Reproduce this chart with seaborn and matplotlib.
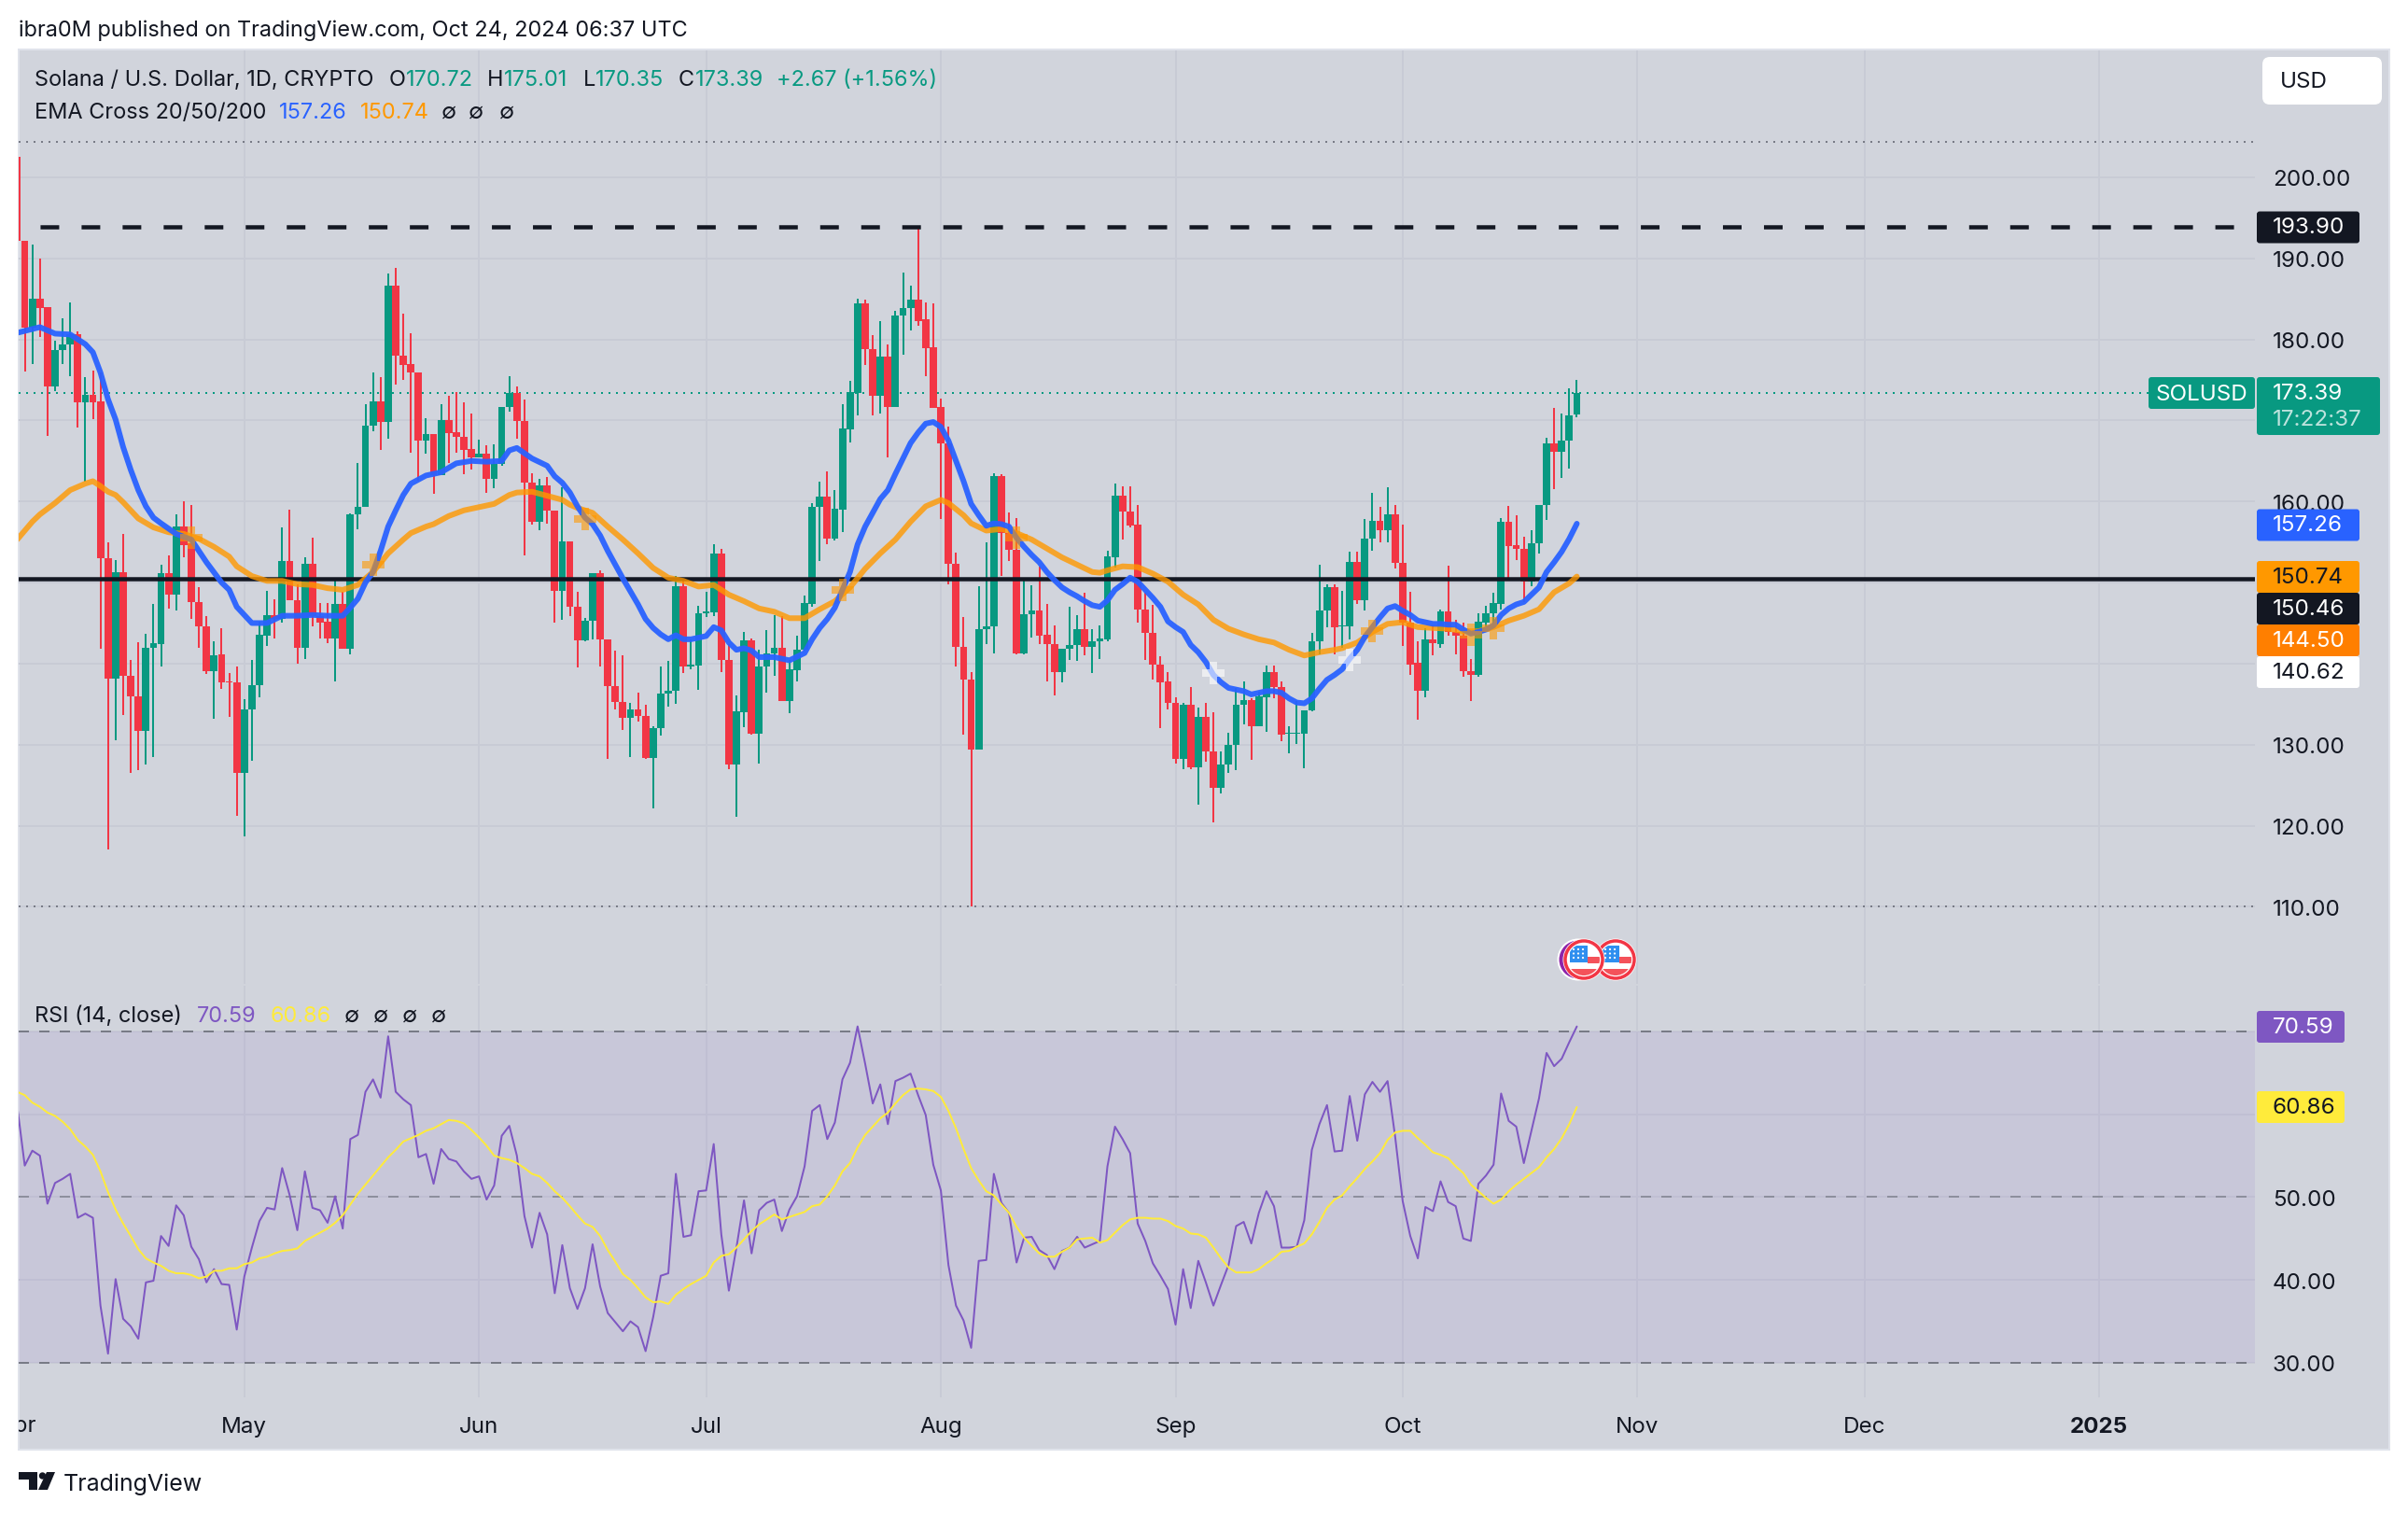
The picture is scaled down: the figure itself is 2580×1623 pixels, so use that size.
import matplotlib
matplotlib.use("Agg")
import matplotlib.pyplot as plt
import seaborn as sns
import pandas as pd
from matplotlib.patches import Rectangle, Circle, FancyBboxPatch, Polygon
from matplotlib.transforms import Bbox

# ---------- data ----------
opens = [202.5,192.2,181.4,185.0,184.0,174.2,178.7,179.4,180.6,172.2,
173.1,172.3,153.0,138.2,151.3,138.5,136.0,131.7,142.0,142.4,
151.2,148.5,156.9,154.8,147.6,144.6,139.1,141.1,137.8,137.7,
126.5,134.3,137.3,143.5,146.0,145.5,152.7,147.8,142.0,152.3,
145.9,145.2,143.1,147.3,141.8,158.4,159.3,169.3,172.4,169.8,
186.6,178.0,176.9,175.9,167.5,168.3,163.2,170.0,168.5,168.0,
166.5,165.4,165.9,162.8,164.6,171.6,173.4,169.9,162.3,157.5,
162.0,158.9,149.0,155.1,147.0,142.9,145.3,151.1,143.0,137.2,
135.3,133.3,134.3,133.5,128.4,132.1,136.3,136.6,149.5,139.6,
139.8,146.2,146.3,153.6,140.4,127.5,134.0,142.9,131.4,139.7,
141.3,141.9,135.4,139.2,141.7,147.4,159.3,160.6,155.4,159.0,
168.9,173.4,184.4,178.8,173.0,177.9,171.6,182.9,183.8,184.9,
182.5,179.0,171.6,167.2,152.3,142.1,138.0,129.4,144.2,144.6,
163.1,156.1,154.0,141.3,146.1,146.6,143.6,142.4,138.9,141.8,
142.3,144.2,142.1,142.7,143.0,153.1,160.7,158.8,157.1,146.7,
143.8,139.9,137.8,135.1,128.3,134.9,127.2,133.4,129.2,124.7,
127.5,130.0,134.9,135.5,132.3,135.9,138.9,137.1,131.3,131.4,
131.4,134.2,142.7,146.5,149.4,144.6,144.6,152.5,147.8,155.4,
157.6,156.5,158.4,152.4,145.0,140.1,136.6,143.0,142.4,146.4,
143.9,143.4,139.1,138.6,145.1,146.2,147.4,157.5,154.6,154.1,
150.1,154.8,159.6,167.2,166.1,167.5,170.72]
closes = [192.2,181.4,185.0,183.9,174.2,178.7,179.4,180.6,172.2,173.1,
172.2,153.0,138.2,151.3,138.5,136.0,131.7,142.0,142.5,151.2,
148.5,156.9,154.6,147.6,144.6,139.1,141.0,137.7,137.7,126.5,
134.3,137.3,143.6,146.0,145.5,152.7,147.8,142.0,152.3,145.9,
145.1,143.1,147.3,141.8,158.4,159.3,169.3,172.4,169.8,186.6,
178.0,176.8,175.9,167.5,168.3,163.2,170.0,168.4,168.0,166.4,
165.4,165.9,162.8,164.6,171.6,173.4,169.9,162.3,157.5,162.0,
158.9,149.0,155.1,147.0,142.9,145.3,151.1,143.0,137.2,135.3,
133.3,134.3,133.5,128.4,132.1,136.3,136.6,149.5,139.6,139.9,
146.2,146.4,153.6,140.4,127.5,134.1,142.9,131.4,139.7,141.3,
141.9,135.4,139.3,141.7,147.5,159.3,160.6,155.4,159.1,169.0,
173.5,184.4,178.8,173.0,177.9,171.6,182.9,183.8,184.9,182.3,
178.9,171.5,167.2,152.3,142.1,138.0,129.4,144.2,144.6,163.1,
156.1,154.0,141.3,146.1,146.6,143.5,142.4,138.9,141.8,142.3,
144.2,142.1,142.7,143.1,153.2,160.7,158.7,157.0,146.7,143.8,
139.9,137.7,135.1,128.3,134.9,127.2,133.4,129.2,124.7,127.5,
130.0,134.9,135.5,132.3,136.0,138.9,137.1,131.2,131.4,131.5,
134.2,142.8,146.5,149.4,144.5,144.7,152.5,147.8,155.4,157.6,
156.5,158.4,152.4,145.0,139.9,136.6,143.0,142.5,146.4,143.9,
143.4,139.1,138.6,145.2,146.2,147.5,157.5,154.5,154.1,150.1,
154.8,159.6,167.2,166.1,167.5,170.6,173.39]
highs = [202.5,192.2,191.7,190.0,184.0,179.8,182.6,184.5,181.0,175.3,
176.2,175.9,154.9,152.8,156.0,140.4,142.6,143.7,147.4,152.2,
153.4,158.4,160.0,159.6,149.4,145.9,142.8,144.4,138.8,139.6,
135.6,140.4,145.2,149.0,147.9,156.8,159.0,149.8,153.1,155.5,
147.5,147.5,150.5,148.8,158.5,164.7,172.0,175.9,175.3,188.1,
188.8,183.2,180.8,175.9,170.3,168.3,172.0,173.0,173.5,172.2,
170.8,167.6,166.9,167.0,171.7,175.4,174.2,172.6,163.5,162.8,
163.0,158.9,161.7,155.1,148.8,145.6,151.1,151.5,143.0,141.6,
141.0,135.1,136.4,134.9,132.3,139.7,140.3,150.8,150.2,143.0,
147.1,148.8,154.7,154.2,142.4,136.1,143.9,143.1,141.7,144.1,
146.0,145.9,140.4,143.5,148.4,159.8,162.4,163.7,161.4,172.0,
174.9,185.0,184.9,180.5,182.3,179.4,183.5,188.2,186.6,193.9,
184.6,184.4,172.7,169.2,153.7,145.8,139.0,149.5,154.9,163.5,
163.4,158.6,157.9,150.6,149.7,152.0,147.4,144.7,141.8,147.0,
146.0,148.7,144.2,144.7,153.9,162.2,161.9,161.9,159.6,148.7,
147.2,140.9,138.9,135.9,135.1,137.1,134.6,135.1,134.0,129.2,
131.5,137.0,137.8,135.7,136.5,139.8,139.8,137.8,132.3,135.4,
134.2,143.8,152.2,149.8,149.8,149.0,153.8,153.8,157.8,161.1,
159.3,161.7,159.6,157.2,148.8,142.8,144.4,144.7,146.7,152.1,
145.4,145.1,140.6,146.2,147.1,148.7,157.9,159.5,158.3,155.6,
156.5,159.6,167.9,171.5,170.8,174.0,175.01]
lows = [192.2,176.0,177.0,180.3,168.1,173.6,177.0,175.4,169.1,162.4,
170.1,141.8,117.1,130.6,133.7,126.5,126.9,127.6,128.5,139.6,
146.8,146.6,153.1,145.5,142.0,138.7,133.2,136.9,133.4,121.2,
118.7,128.0,135.9,142.2,143.1,145.0,147.8,140.0,140.6,144.6,
143.1,142.5,137.8,141.8,141.1,156.6,159.3,168.7,166.3,167.7,
174.4,175.0,166.0,162.5,165.9,161.0,163.2,164.7,166.0,163.4,
163.9,165.4,161.1,161.6,164.4,171.1,167.7,153.3,157.2,156.5,
157.3,145.1,145.4,145.9,139.5,142.7,143.0,139.7,128.2,134.4,
131.8,128.5,132.9,128.2,122.1,131.1,134.7,135.0,138.8,139.3,
136.8,145.7,145.9,138.9,127.0,121.1,132.2,131.2,127.7,136.4,
138.5,135.4,133.9,137.8,141.6,147.0,152.6,154.7,155.2,156.2,
167.3,170.6,176.8,170.6,170.9,165.4,171.6,178.1,181.1,181.7,
175.4,171.5,157.8,149.8,139.7,131.2,110.0,129.4,142.4,141.3,
150.8,152.6,141.1,141.1,143.2,142.4,137.8,136.1,137.7,140.4,
140.3,141.0,138.8,140.6,142.7,151.9,155.3,156.8,145.1,140.5,
138.0,132.1,134.4,127.7,127.0,127.0,122.6,127.9,120.4,124.0,
126.5,126.9,132.5,128.1,132.3,131.6,135.7,130.4,128.9,130.1,
127.1,134.1,141.1,144.5,141.1,142.0,143.0,147.3,146.5,153.9,
155.0,155.0,151.7,142.2,138.6,133.1,135.9,141.0,141.9,143.4,
141.1,138.4,135.4,138.4,144.6,144.4,146.7,150.4,152.8,147.6,
149.6,153.6,157.7,161.5,162.9,164.1,170.35]
rsi = [61.0,53.8,55.6,55.0,49.2,51.7,52.2,52.8,47.5,48.0,
47.5,36.9,31.1,40.1,35.3,34.4,32.9,39.7,39.9,45.3,
44.1,49.0,47.8,44.0,42.5,39.7,41.3,39.5,39.4,34.0,
40.4,43.9,47.1,48.7,48.5,53.5,50.2,46.0,53.1,48.7,
48.4,46.9,50.1,46.2,57.0,57.5,62.7,64.2,62.0,69.4,
62.7,61.8,61.1,54.8,55.2,51.6,55.8,54.6,54.3,53.1,
52.2,52.5,49.7,51.4,57.4,58.6,55.0,47.7,43.9,48.1,
45.5,38.4,44.2,39.0,36.5,39.0,44.3,39.2,36.0,34.9,
33.8,35.0,34.3,31.4,35.5,40.5,40.8,52.8,45.2,45.4,
50.7,50.8,56.4,45.5,38.7,43.9,49.6,43.2,48.4,49.3,
49.7,45.9,48.5,50.1,53.7,60.4,61.1,57.0,59.0,64.2,
66.2,70.6,66.1,61.3,63.6,58.8,64.0,64.4,64.9,62.3,
59.9,53.9,50.8,41.8,36.9,35.1,31.8,42.3,42.4,52.8,
49.3,48.1,42.1,45.1,45.2,43.6,43.0,41.3,43.5,43.9,
45.2,43.9,44.3,44.7,53.7,58.5,57.0,55.3,46.8,44.7,
42.0,40.5,38.9,34.6,41.3,36.6,42.3,39.7,36.9,39.4,
41.8,46.5,47.0,44.4,48.1,50.7,48.9,43.9,43.9,44.0,
47.2,55.7,58.8,61.1,55.5,55.6,62.2,56.8,62.4,63.9,
62.7,64.0,57.3,49.5,45.3,42.6,48.8,48.3,51.9,49.4,
48.9,45.0,44.7,51.6,52.6,53.9,62.5,59.2,58.5,54.1,
58.0,61.9,67.4,65.8,66.7,68.7,70.59]
rsi_ma = [62.7,62.3,61.4,60.9,60.2,59.8,59.1,58.2,56.9,56.1,
55.1,53.1,50.6,48.5,46.8,45.3,43.7,42.6,42.1,41.7,
41.1,40.8,40.8,40.6,40.2,40.4,41.1,41.1,41.4,41.4,
41.9,42.1,42.6,42.8,43.2,43.5,43.6,43.8,44.7,45.2,
45.7,46.2,46.9,47.8,49.1,50.4,51.5,52.6,53.7,54.8,
55.7,56.7,57.1,57.5,58.0,58.3,58.8,59.3,59.2,58.9,
58.1,57.2,56.2,55.0,54.7,54.5,54.1,53.5,52.8,52.5,
51.7,50.7,49.9,48.9,47.8,46.8,46.4,45.3,43.6,42.2,
40.7,40.0,39.0,37.9,37.3,37.4,37.1,38.2,38.9,39.5,
40.0,40.5,42.1,42.9,43.1,43.9,44.9,45.9,46.7,47.3,
47.9,47.3,47.6,47.9,48.2,48.9,49.1,50.1,51.4,53.1,
54.1,56.0,57.5,58.5,59.5,60.2,61.3,62.3,63.0,63.1,
63.0,62.8,62.1,60.4,58.3,55.8,53.5,52.0,50.7,50.2,
49.1,48.1,46.4,45.1,44.1,43.2,42.8,42.8,43.4,43.9,
44.9,45.0,45.1,44.5,44.8,45.7,46.6,47.3,47.5,47.5,
47.4,47.4,47.1,46.5,46.2,45.6,45.5,45.1,43.9,42.6,
41.5,40.9,40.9,40.9,41.3,42.0,42.6,43.4,43.5,44.0,
44.4,45.5,47.0,48.7,49.7,50.2,51.3,52.3,53.4,54.3,
55.3,56.9,57.8,58.0,58.0,57.1,56.3,55.4,55.1,54.7,
53.7,52.9,51.5,50.7,49.9,49.2,49.7,50.7,51.5,52.2,
52.9,53.6,54.8,55.8,57.1,58.8,60.86]
ema20_days = [0,3,5,7,9,10,11,12,13,14,15,16,17,18,19,21,23,25,27,28,29,31,33,35,37,39,41,43,44,45,46,47,48,49,50,51,52,54,56,58,60,62,64,65,66,68,70,71,72,73,74,75,76,77,78,79,80,81,82,83,84,85,86,87,88,89,90,91,92,93,94,95,96,97,98,100,102,104,105,106,107,108,109,110,111,112,113,114,115,116,117,118,119,120,121,122,123,124,125,126,127,128,129,130,131,132,133,134,135,136,137,138,139,140,141,142,143,144,145,146,147,148,149,150,151,152,153,154,155,156,157,158,159,160,161,162,163,164,165,166,167,168,169,170,171,172,173,174,175,176,177,178,179,180,181,182,183,184,185,186,187,188,189,190,191,192,193,194,195,196,197,198,199,200,201,202,203,204,205,206]
ema20_vals = [180.8,181.5,180.7,180.6,179.4,178.4,175.9,172.6,170.1,166.7,163.9,161.4,159.4,158.0,157.3,156.0,155.3,152.5,150.0,149.1,147.0,145.0,145.0,145.9,145.9,146.0,145.9,145.9,146.9,148.0,150.0,151.3,153.9,156.9,158.9,160.8,162.2,163.2,163.6,164.7,165.0,164.9,165.0,166.3,166.6,165.3,164.4,163.1,162.3,161.1,159.4,158.0,157.2,155.8,153.9,152.2,150.5,148.9,147.3,145.5,144.4,143.6,143.0,143.5,143.0,143.0,143.2,143.4,144.5,144.1,142.6,141.7,141.9,141.6,140.8,140.8,140.4,141.3,143.0,144.4,145.5,146.9,149.1,151.3,154.7,156.9,158.6,160.3,161.4,163.4,165.3,167.2,168.5,169.6,169.8,169.2,167.5,165.0,162.5,159.7,158.3,157.0,157.3,157.2,156.9,155.5,154.4,153.4,152.5,151.3,150.3,149.4,148.8,148.3,147.7,147.2,147.0,147.8,149.1,149.8,150.6,150.1,149.1,148.1,147.0,145.2,144.5,143.9,142.3,141.4,140.2,138.6,137.7,137.0,136.8,136.6,136.2,136.4,136.6,136.6,136.4,135.7,135.2,135.1,135.7,136.9,138.0,138.6,139.3,140.6,141.7,143.3,144.5,145.7,146.8,147.1,146.5,146.0,145.3,145.1,144.9,144.9,144.8,144.8,144.2,143.7,143.9,144.2,144.7,146.0,146.8,147.3,147.6,148.5,149.4,151.3,152.5,153.8,155.4,157.26]
ema50_days = [0,2,3,5,7,9,10,11,12,13,14,16,18,20,22,24,26,28,29,31,33,35,37,39,41,43,45,47,49,51,52,54,55,57,59,61,63,65,66,68,70,72,73,74,76,78,80,82,84,86,88,90,92,94,96,98,100,102,104,106,108,110,112,114,116,118,120,122,123,125,126,128,130,132,134,136,138,140,142,143,144,146,148,150,152,154,156,158,160,162,164,166,168,170,172,174,175,177,179,181,183,185,187,189,191,193,195,197,199,201,203,205,206]
ema50_vals = [155.3,157.5,158.4,159.8,161.4,162.2,162.5,161.9,161.2,160.8,159.9,157.9,156.8,156.2,156.0,155.4,154.4,153.2,152.0,150.8,150.2,150.2,149.8,149.7,149.3,149.1,149.7,151.3,153.6,155.3,156.1,156.9,157.2,158.2,158.9,159.3,159.7,160.8,161.1,161.2,160.7,160.2,159.6,159.2,158.6,156.9,155.3,153.6,151.8,150.6,150.2,149.5,149.7,148.5,147.7,146.8,146.4,145.6,145.6,146.7,147.7,149.4,151.7,153.6,155.3,157.5,159.4,160.2,159.8,158.3,157.3,156.4,156.6,156.1,155.3,154.2,153.1,152.2,151.3,151.2,151.5,152.0,151.9,151.1,150.1,148.5,147.3,145.4,144.3,143.6,143.0,142.6,141.7,141.0,141.4,141.7,141.9,142.6,143.9,144.9,145.1,144.5,144.4,144.3,144.0,144.0,144.5,145.3,145.9,146.7,148.8,149.9,150.74]
cross_days_orange = [23,47,75,109,132,179,192,195]
cross_vals_orange = [155.5,152.2,157.8,149.1,155.5,144.0,143.6,144.4]
cross_days_white = [158,176]
cross_vals_white = [138.8,140.5]
price_ticks = [110,120,130,140,150,160,170,180,190,200]
hidden_price_ticks = [140,150,170]
rsi_ticks = [30,40,50,60,70]
hidden_rsi_ticks = [60,70]
month_days = [30,61,91,122,153,183,214,244,275]
month_names = ["May","Jun","Jul","Aug","Sep","Oct","Nov","Dec","2025"]
resistance, support, level_top, level_low = 193.90, 150.46, 204.3, 110.0
last_close, ema20_last, ema50_last = 173.39, 157.26, 150.74
label_orange, label_white = 144.50, 140.62
rsi_last, rsi_ma_last = 70.59, 60.86

# ---------- style ----------
W, H, DPI = 2580, 1624, 100
sns.set_theme(style="whitegrid")
plt.rcParams['font.family'] = ['Inter', 'DejaVu Sans']
PX = 72 / DPI
BG, GRID, INK = '#D1D4DC', '#C8CBD5', '#131722'
GREEN, RED, BLUE, ORANGE, PURPLE, YELLOW = '#089981', '#F23645', '#2962FF', '#FF9800', '#7E57C2', '#FFEB3B'
FS = 23.5 * PX
FS_AXIS = FS + .5

def frame(x0, y0, x1, y1, **kw):
    return fig.add_axes([x0 / W, 1 - y1 / H, (x1 - x0) / W, (y1 - y0) / H], **kw)

fig = plt.figure(figsize=(W / DPI, H / DPI), dpi=DPI, facecolor='white')
ax_bg = frame(0, 0, W, H, zorder=0)
ax_bg.set_xlim(0, W); ax_bg.set_ylim(H, 0); ax_bg.axis('off')
ax_bg.add_patch(Rectangle((20, 54), 2540, 1500, fc=BG, ec='#E0E3EB', lw=2 * PX))

XL = ((20 - 18.4) / 8.112, (2416 - 18.4) / 8.112)
ax = frame(20, 55, 2416, 1055, zorder=2)
ax_r = frame(20, 1057, 2416, 1498, zorder=2)
for a in (ax, ax_r):
    a.set_facecolor('none')
    a.set_xlim(*XL)
    a.set_xticks(month_days)
    a.grid(True, color=GRID, lw=2 * PX)
    a.set_axisbelow(True)
    for s in a.spines.values():
        s.set_visible(False)
    a.yaxis.tick_right()
    a.tick_params(axis='both', length=0, colors=INK, labelsize=FS_AXIS)
    a.tick_params(axis='y', pad=19 * PX)

ax.set_ylim(200 - (1055 - 190.8) / 8.685, 200 + (190.8 - 55) / 8.685)
ax.set_yticks(price_ticks)
ax.set_yticklabels(['' if v in hidden_price_ticks else f'{v:.2f}' for v in price_ticks])
ax.set_xticklabels([])

ax_r.set_ylim(70 - (1498 - 1105.9) / 8.875, 70 + (1105.9 - 1057) / 8.875)
ax_r.set_yticks(rsi_ticks)
ax_r.set_yticklabels(['' if v in hidden_rsi_ticks else f'{v:.2f}' for v in rsi_ticks])
ax_r.set_xticklabels(month_names)
ax_r.tick_params(axis='x', pad=20 * PX)
ax_r.get_xticklabels()[-1].set_fontweight('bold')

# ---------- candles ----------
days = list(range(len(closes)))
candles = pd.DataFrame({'day': days, 'o': opens, 'h': highs, 'l': lows, 'c': closes})
candles['color'] = [GREEN if c >= o else RED for o, c in zip(opens, closes)]
ax.vlines(candles['day'], candles['l'], candles['h'], colors=candles['color'], lw=2 * PX, zorder=3)
ax.bar(candles['day'], (candles['c'] - candles['o']).abs().clip(lower=.12),
       bottom=candles[['o', 'c']].min(axis=1), width=.96, color=candles['color'], lw=0, zorder=4)

# ---------- levels ----------
ax.axhline(resistance, color=INK, lw=4.5 * PX, ls=(4.67, (4.44, 5.33)), zorder=5)
ax.axhline(support, color=INK, lw=4.5 * PX, zorder=5)
ax.axhline(level_top, color='#787B86', lw=2 * PX, ls=(0, (1, 3)), zorder=2)
ax.axhline(level_low, color='#787B86', lw=2 * PX, ls=(0, (1, 3)), zorder=2)
ax.plot([XL[0], (2302 - 18.4) / 8.112], [last_close] * 2, color=GREEN, lw=2 * PX, ls=(0, (1, 3)), zorder=2)

# ---------- EMA lines ----------
sns.lineplot(x=ema50_days, y=ema50_vals, ax=ax, color=ORANGE, lw=6 * PX, alpha=.8, zorder=6, estimator=None, legend=False)
sns.lineplot(x=ema20_days, y=ema20_vals, ax=ax, color=BLUE, lw=6 * PX, alpha=.95, zorder=6, estimator=None, legend=False)
ax.scatter(cross_days_orange, cross_vals_orange, marker='+', s=(24 * PX) ** 2, linewidths=8 * PX, color=ORANGE, alpha=.6, zorder=7)
ax.scatter(cross_days_white, cross_vals_white, marker='+', s=(24 * PX) ** 2, linewidths=8 * PX, color='white', alpha=.6, zorder=7)
ax.set_xlim(*XL); ax.set_xlabel(''); ax.set_ylabel('')

# ---------- RSI ----------
ax_r.axhspan(30, 70, color=PURPLE, alpha=.1, lw=0, zorder=1)
for lvl, al in ((70, 1), (50, .7), (30, 1)):
    ax_r.axhline(lvl, color='#787B86', lw=2 * PX, ls=(0, (5.5, 5.5)), alpha=al, zorder=2)
sns.lineplot(x=days, y=rsi_ma, ax=ax_r, color=YELLOW, lw=2 * PX, zorder=5, estimator=None, legend=False)
sns.lineplot(x=days, y=rsi, ax=ax_r, color=PURPLE, lw=2 * PX, zorder=4, estimator=None, legend=False)
ax_r.set_xlim(*XL); ax_r.set_xlabel(''); ax_r.set_ylabel('')

# ---------- overlay: text, boxes, event badges, logo ----------
ov = frame(0, 0, W, H, zorder=5, facecolor='none')
ov.set_xlim(0, W); ov.set_ylim(H, 0); ov.axis('off')

def txt(x, y, s, color=INK, ha='left', size=FS, **kw):
    return ov.text(x, y, s, color=color, ha=ha, va='center', fontsize=size, **kw)

def box(x0, y0, x1, y1, color, r=3):
    ov.add_patch(FancyBboxPatch((x0, y0), x1 - x0, y1 - y0, boxstyle=f'round,pad=0,rounding_size={r}', fc=color, ec='none'))

def price_box(yc, value, fc, tc):
    box(2418, yc - 17, 2528, yc + 17, fc)
    txt(2435, yc, f'{value:.2f}', tc, size=FS_AXIS)

txt(20, 33, 'ibra0M published on TradingView.com, Oct 24, 2024 06:37 UTC')
txt(37, 86, 'Solana / U.S. Dollar, 1D, CRYPTO')
for x, s, c in ((417, 'O', INK), (435, '170.72', GREEN), (522, 'H', INK), (540, '175.01', GREEN), (625, 'L', INK),
                (638, '170.35', GREEN), (727, 'C', INK), (745, '173.39', GREEN), (832, '+2.67 (+1.56%)', GREEN)):
    txt(x, 86, s, c)
txt(37, 121, 'EMA Cross 20/50/200')
txt(299, 121, f'{ema20_last:.2f}', BLUE)
txt(386, 121, f'{ema50_last:.2f}', ORANGE)
for x in (481, 510, 543):
    txt(x, 121, '∅', ha='center')
txt(37, 1089, 'RSI (14, close)')
txt(211, 1089, f'{rsi_last:.2f}', PURPLE)
txt(290, 1089, f'{rsi_ma_last:.2f}', YELLOW)
for x in (377, 408, 439, 470):
    txt(x, 1089, '∅', ha='center')

apr = txt(18.4, 1528, 'Apr', ha='center', size=FS_AXIS)
apr.set_clip_on(True)
apr.set_clip_box(Bbox.from_extents(20, 0, W, H))

# price scale boxes
box(2424, 62, 2552, 113, 'white', r=8)
txt(2443, 88, 'USD', size=FS_AXIS)
price_box(244.5, resistance, INK, 'white')
box(2302, 405, 2416, 439, GREEN)
txt(2359, 423, 'SOLUSD', 'white', ha='center', size=FS_AXIS)
box(2418, 405, 2550, 467, GREEN)
txt(2435, 422, f'{last_close:.2f}', 'white', size=FS_AXIS)
txt(2435, 450, '17:22:37', '#BDE3DD', size=FS_AXIS)
price_box(563.5, ema20_last, BLUE, 'white')
price_box(619, ema50_last, ORANGE, INK)
price_box(653, support, INK, 'white')
price_box(687, label_orange, '#FF7F00', 'white')
price_box(721, label_white, 'white', INK)
box(2418, 1084, 2512, 1118, PURPLE)
txt(2435, 1101, f'{rsi_last:.2f}', 'white', size=FS_AXIS)
box(2418, 1170, 2512, 1204, YELLOW)
txt(2435, 1187, f'{rsi_ma_last:.2f}', INK, size=FS_AXIS)

# event badges
def badge(cx, cy, z):
    ov.add_patch(Circle((cx, cy), 22.5, fc='white', ec='none', zorder=z))
    ov.add_patch(Circle((cx, cy), 20, fc='white', ec=RED, lw=3.5 * PX, zorder=z + .1))
    clip = Circle((cx, cy), 17, transform=ov.transData)
    for (x, y, w, h, c) in ((cx - 15, cy - 15, 19, 17.5, '#2F8FEF'), (cx + 4, cy - 3, 14, 7, '#F4525A'),
                            (cx - 18, cy + 9.5, 36, 10, '#F4525A')):
        p = Rectangle((x, y), w, h, fc=c, ec='none', zorder=z + .2)
        ov.add_patch(p)
        p.set_clip_path(clip)
    for row in (-11, -6.5, -2):
        for col in (-11, -6, -1):
            ov.add_patch(Circle((cx + col, cy + row), 1.1, fc='white', ec='none', zorder=z + .3))

ov.add_patch(Circle((1691, 1029), 21.5, fc='#8E24AA', ec='white', lw=2 * PX, zorder=8))
badge(1731, 1029, 9)
badge(1697, 1029, 10)

# logo
for pts in ([(20, 1578), (40, 1578), (40, 1597), (31, 1597), (31, 1586), (20, 1586)],
            [(50, 1578), (59, 1578), (51, 1597), (41, 1597)]):
    ov.add_patch(Polygon(pts, closed=True, fc=INK, ec='none'))
ov.add_patch(Circle((45.5, 1582), 3.7, fc=INK, ec='none'))
txt(68, 1590, 'TradingView', size=25 * PX)

fig.savefig('out.png', dpi=DPI, facecolor='white')
